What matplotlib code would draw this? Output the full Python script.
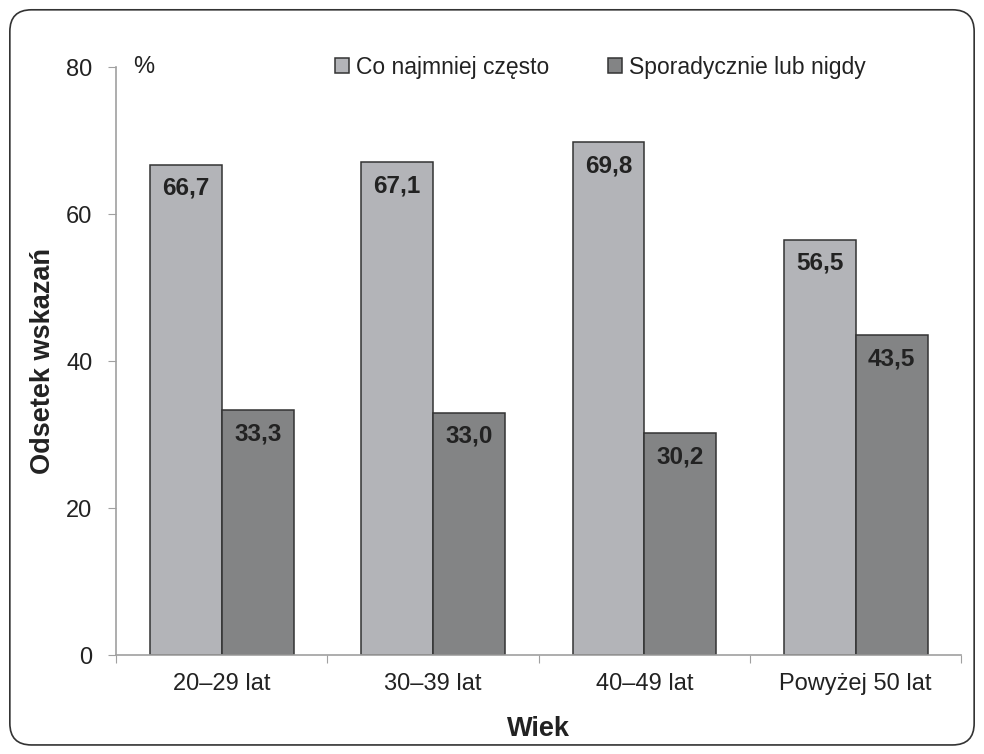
import matplotlib.pyplot as plt
import numpy as np
from matplotlib.patches import FancyBboxPatch

plt.rcParams['font.family'] = ['Liberation Sans', 'DejaVu Sans']

categories = ['20–29 lat', '30–39 lat', '40–49 lat', 'Powyżej 50 lat']
often = [66.7, 67.1, 69.8, 56.5]
rarely = [33.3, 33.0, 30.2, 43.5]
series_names = ['Co najmniej często', 'Sporadycznie lub nigdy']

fig = plt.figure(figsize=(9.84, 7.54), dpi=100)
ax = fig.add_axes([0.118, 0.131, 0.859, 0.780])

# rounded frame around the whole figure
frame = FancyBboxPatch((0.010, 0.012), 0.980, 0.975, boxstyle='round,pad=0,rounding_size=0.022',
                       transform=fig.transFigure, fill=False, edgecolor='#333333', linewidth=1.2,
                       mutation_aspect=984 / 754)
fig.patches.append(frame)

x = np.arange(len(categories))
width = 0.34
b1 = ax.bar(x - width / 2, often, width, color='#b3b4b8', edgecolor='#333333', linewidth=1.1,
            label=series_names[0])
b2 = ax.bar(x + width / 2, rarely, width, color='#838485', edgecolor='#333333', linewidth=1.1,
            label=series_names[1])

for rects, vals in ((b1, often), (b2, rarely)):
    for r, v in zip(rects, vals):
        ax.annotate(f'{v:.1f}'.replace('.', ','), (r.get_x() + r.get_width() / 2, v),
                    xytext=(0, -17), textcoords='offset points', ha='center', va='center',
                    fontsize=17.5, fontweight='bold', color='#222222')

ax.set_xlim(-0.5, len(categories) - 0.5)
ax.set_ylim(0, 80)
ax.set_yticks([0, 20, 40, 60, 80])
ax.tick_params(axis='y', direction='out', length=6, color='#a0a0a0', labelsize=17,
               labelcolor='#222222', pad=11)

# category boundaries as ticks, names in between
ax.set_xticks(np.arange(len(categories) + 1) - 0.5)
ax.set_xticklabels([])
ax.set_xticks(x, minor=True)
ax.set_xticklabels(categories, minor=True)
ax.tick_params(axis='x', which='major', direction='out', length=6, color='#a0a0a0')
ax.tick_params(axis='x', which='minor', length=0, labelsize=17, labelcolor='#222222', pad=13)

for s in ('top', 'right'):
    ax.spines[s].set_visible(False)
for s in ('left', 'bottom'):
    ax.spines[s].set_color('#a0a0a0')
    ax.spines[s].set_linewidth(1.2)

ax.set_ylabel('Odsetek wskazań', fontsize=19.5, fontweight='bold', color='#222222', labelpad=7)
ax.set_xlabel('Wiek', fontsize=19.5, fontweight='bold', color='#222222', labelpad=15)

ax.text(0.02, 80, '%', fontsize=17, color='#222222', va='center', ha='left',
        transform=ax.get_yaxis_transform())

ax.legend(loc='center', bbox_to_anchor=(0.573, 1.0), ncol=2, frameon=False, fontsize=16.5,
          handlelength=0.6, handleheight=0.6, handletextpad=0.3, columnspacing=2.6,
          labelcolor='#222222')

fig.savefig('out.png', dpi=100)
